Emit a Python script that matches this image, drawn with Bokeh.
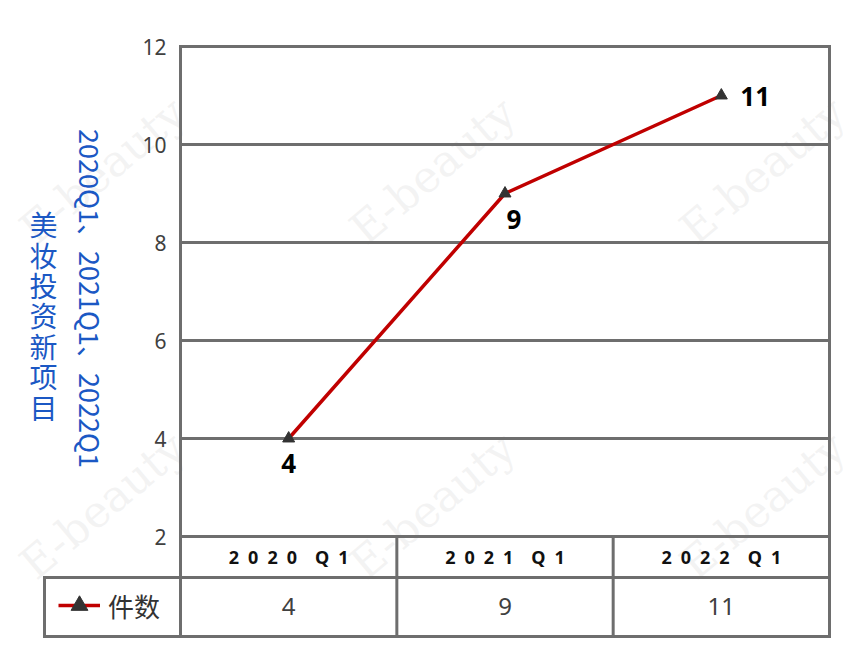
import math
from bokeh.plotting import figure
from bokeh.models import Range1d, ColumnDataSource, Label, Legend, LegendItem
from bokeh.embed import file_html
from bokeh.resources import INLINE
from bokeh.core.properties import value

# ---------------- data ----------------
categories = ["2020 Q1", "2021 Q1", "2022 Q1"]
counts = [4, 9, 11]
y_ticks = [2, 4, 6, 8, 10, 12]
series_name = "件数"
axis_title_1 = "美妆投资新项目"
axis_title_2 = "2020Q1、2021Q1、2022Q1"
watermark = "E-beauty"

# ---------------- layout (page pixels) ----------------
W, H = 858, 660
CH_L, CH_R, CH_T, CH_B = 180, 829, 46, 636      # chart + table box
TAB_L, ROW1_B = 44, 577                          # table left edge, header row bottom
Y_TOP, Y_BASE = 12, 2
Y_TOP_PX, Y_BASE_PX = 46, 536
ppu_y = (Y_BASE_PX - Y_TOP_PX) / (Y_TOP - Y_BASE)
ppu_x = (CH_R - CH_L) / len(categories)


def dx(px):
    return (px - CH_L) / ppu_x


def dy(py):
    return Y_TOP - (py - Y_TOP_PX) / ppu_y


GRID = "#6e6e6e"
RED = "#C00000"
BLUE = "#1B58C4"
DARK = "#333333"

p = figure(width=W, height=H, output_backend="svg", toolbar_location=None, title=None,
           x_range=Range1d(dx(0), dx(W)), y_range=Range1d(dy(H), dy(0)),
           x_axis_type=None, y_axis_type=None,
           min_border=0)
p.background_fill_color = "white"
p.border_fill_color = "white"
p.outline_line_color = None
p.xgrid.visible = False
p.ygrid.visible = False

n = len(categories)
xs = [i + 0.5 for i in range(n)]

# watermarks (behind everything)
for cx in (102, 432, 762):
    for cy in (170, 505):
        p.add_layout(Label(x=dx(cx), y=dy(cy), text=watermark, angle=math.radians(40),
                           text_align="center", text_baseline="middle",
                           text_font="DejaVu Serif", text_font_size="44px",
                           text_color="#d0d0d0", text_alpha=0.25, level="image"))

# horizontal grid lines from the tick list
p.segment(x0=[0] * len(y_ticks), y0=y_ticks, x1=[n] * len(y_ticks), y1=y_ticks,
          line_color=GRID, line_width=3)
# y tick labels
p.text(x=[dx(166)] * len(y_ticks), y=y_ticks, text=[str(t) for t in y_ticks],
       text_font=value("Noto Sans"), text_font_size="21px", text_color="#404040",
       text_align="right", text_baseline="middle")

# chart / table frame lines
bx0 = [0, n, dx(TAB_L), dx(TAB_L), dx(TAB_L)] + list(range(1, n))
by0 = [dy(CH_B), dy(CH_B), dy(ROW1_B), dy(CH_B), dy(ROW1_B)] + [Y_BASE] * (n - 1)
bx1 = [0, n, n, n, dx(TAB_L)] + list(range(1, n))
by1 = [Y_TOP, Y_TOP, dy(ROW1_B), dy(CH_B), dy(CH_B)] + [dy(CH_B)] * (n - 1)
p.segment(x0=bx0, y0=by0, x1=bx1, y1=by1, line_color=GRID, line_width=3,
          line_cap="square")


def spaced(c):
    return "\u2002\u2002".join("\u2002".join(part) for part in c.split())


p.text(x=xs, y=[dy(556)] * n, text=[spaced(c) for c in categories],
       text_font=value("Noto Sans"), text_font_style="bold", text_font_size="18px",
       text_color="#111111", text_align="center", text_baseline="middle")
p.text(x=xs, y=[dy(606)] * n, text=[str(v) for v in counts],
       text_font=value("Noto Sans"), text_font_size="24px",
       text_color="#404040", text_align="center", text_baseline="middle")

# series
src = ColumnDataSource(dict(x=xs, y=counts, label=[str(v) for v in counts],
                            ox=[0, 9, 19], oy=[25, 26, 1],
                            al=["center", "center", "left"]))
line_r = p.line("x", "y", source=src, line_color=RED, line_width=3.5)
mark_r = p.scatter("x", "y", source=src, marker="triangle", size=12,
                   fill_color=DARK, line_color=DARK)
p.text("x", "y", text="label", source=src, x_offset="ox", y_offset="oy",
       text_align="al", text_baseline="middle",
       text_font=value("Noto Sans"), text_font_style="bold", text_font_size="26px",
       text_color="#000000")

legend = Legend(items=[LegendItem(label=series_name, renderers=[line_r, mark_r])],
                location=(58, H - 626), orientation="horizontal",
                padding=0, margin=0, spacing=0, glyph_width=42, glyph_height=42,
                label_height=42, label_standoff=8,
                label_text_font="Noto Sans CJK SC", label_text_font_size="26px",
                label_text_color=DARK, background_fill_alpha=0, border_line_alpha=0)
p.add_layout(legend, "center")

# y-axis titles
p.add_layout(Label(x=dx(43), y=dy(315), text="\n".join(axis_title_1),
                   text_align="center", text_baseline="middle", text_line_height=0.76,
                   text_font="Noto Sans CJK SC", text_font_size="28px", text_color=BLUE))
p.add_layout(Label(x=dx(90), y=dy(298), text=axis_title_2, angle=-math.pi / 2,
                   text_align="center", text_baseline="middle",
                   text_font="Noto Sans CJK SC", text_font_size="27px", text_color=BLUE))

open("out.html", "w").write(file_html(p, INLINE))
